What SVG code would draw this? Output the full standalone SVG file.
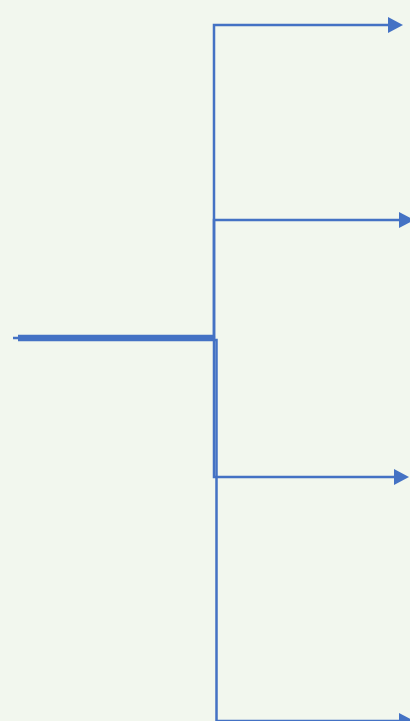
<svg xmlns="http://www.w3.org/2000/svg" width="410" height="721" viewBox="0 0 410 721">
  <defs>
    <style>
      .edge { fill: none; stroke: #4472C4; stroke-width: 2.5; marker-end: url(#arrow); }
    </style>
    <marker id="arrow" markerUnits="userSpaceOnUse" markerWidth="15" markerHeight="16" refX="0" refY="8" orient="auto" overflow="visible">
      <path d="M0,0 L15,8 L0,16 Z" fill="#4472C4"/>
    </marker>
  </defs>
  <rect width="410" height="721" fill="#F2F7EE"/>
  <g id="connectors">
    <path class="edge" d="M13,338 H214 V25 H388"/>
    <path class="edge" d="M18,336 H214 V220 H399"/>
    <path class="edge" d="M18,338 H214 V477 H394"/>
    <path class="edge" d="M18,340 H216.5 V721 H399"/>
  </g>
</svg>
